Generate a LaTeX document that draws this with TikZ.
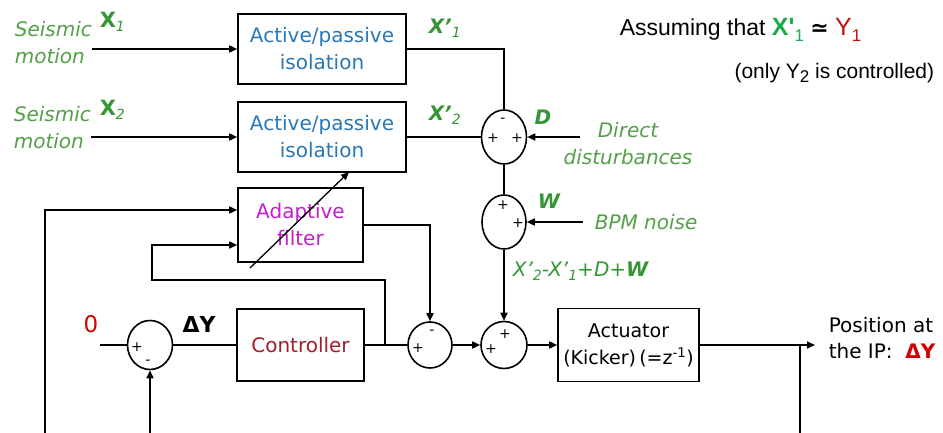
\documentclass[tikz,border=0pt]{standalone}
\usepackage{fontspec}
\setmainfont{DejaVu Sans}
\newfontfamily\arialf{Liberation Sans}
\usetikzlibrary{shapes.geometric,arrows.meta}
\definecolor{lgreen}{RGB}{84,160,72}
\definecolor{bgreen}{RGB}{52,150,52}
\definecolor{agreen}{RGB}{30,170,70}
\definecolor{isoblue}{RGB}{40,120,185}
\definecolor{adpmag}{RGB}{195,30,200}
\definecolor{ctrlred}{RGB}{160,30,45}
\definecolor{brred}{RGB}{210,0,0}
\definecolor{dkred}{RGB}{190,20,20}
\newcommand\sbx[1]{\raisebox{-0.35ex}{\fontsize{14}{14}\selectfont\mdseries #1}}
\newcommand\sbl[1]{\raisebox{-0.4ex}{\fontsize{17}{17}\selectfont\mdseries #1}}
\newcommand\fsz{\fontsize{20}{27}\selectfont}
\begin{document}
\begin{tikzpicture}[x=1pt,y=-1pt,line width=1.6pt,
  blk/.style={draw,line width=1.6pt,inner sep=0pt,align=center,font=\fsz},
  sumj/.style={draw,ellipse,line width=1.6pt,inner sep=0pt},
  arr/.style={-{Triangle[length=8pt,width=7pt]}},
  sgn/.style={inner sep=0pt,font=\fontsize{14}{14}\selectfont},
  lbl/.style={inner sep=0pt,text=lgreen,font=\fsz\itshape},
  xlbl/.style={inner sep=0pt,text=bgreen,font=\fsz\bfseries\itshape}]
\useasboundingbox (0,0) rectangle (943,433);
\fill[white] (0,0) rectangle (943,433);

% blocks
\node[blk,minimum width=168pt,minimum height=70pt,text=isoblue] (iso1) at (322,49) {Active/passive\\isolation};
\node[blk,minimum width=168pt,minimum height=70pt,text=isoblue] (iso2) at (322,137) {Active/passive\\isolation};
\node[blk,minimum width=125pt,minimum height=74pt,text=adpmag] (adf) at (300.5,225) {Adaptive\\filter};
\node[blk,minimum width=127pt,minimum height=72pt,text=ctrlred] (ctrl) at (300.5,345) {Controller};
\node[blk,minimum width=141pt,minimum height=73pt,font=\fontsize{19}{27}\selectfont] (act) at (628.5,345) {Actuator\\(Kicker)\,(=z\textsuperscript{-1})};

% summing junctions
\node[sumj,minimum width=45pt,minimum height=54pt] (s1) at (504,137) {};
\node[sumj,minimum width=44pt,minimum height=54pt] (s2) at (504,222) {};
\node[sumj,minimum width=44pt,minimum height=46pt] (s3) at (430,345) {};
\node[sumj,minimum width=46pt,minimum height=47pt] (s4) at (504,345) {};
\node[sumj,minimum width=45pt,minimum height=49pt] (s0) at (150,345) {};

% signs
\node[sgn] (g1) at (503,120) {-};
\node[sgn] (g2) at (493,138) {+};
\node[sgn] (g3) at (517,138) {+};
\node[sgn] (g4) at (503,205) {+};
\node[sgn] (g5) at (518,223) {+};
\node[sgn] (g6) at (432,332) {-};
\node[sgn] (g7) at (418,348) {+};
\node[sgn] (g8) at (505,334) {+};
\node[sgn] (g9) at (491,349) {+};
\node[sgn] (g10) at (137,347) {+};
\node[sgn] (g11) at (148,362) {-};

% labels
\node[lbl,anchor=west,align=left] (sm1) at (14,43) {Seismic\\motion};
\node[lbl,anchor=west,align=left] (sm2) at (13,128) {Seismic\\motion};
\node[inner sep=0pt,text=bgreen,font=\fontsize{21}{27}\selectfont\bfseries,anchor=west] (x1) at (99,22) {X{\itshape\sbx{1}}};
\node[inner sep=0pt,text=bgreen,font=\fontsize{21}{27}\selectfont\bfseries,anchor=west] (x2) at (99,110) {X{\itshape\sbx{2}}};
\node[xlbl,anchor=west] (xp1) at (428,28) {X'\sbx{1}};
\node[xlbl,anchor=west] (xp2) at (428,115) {X'\sbx{2}};
\node[xlbl] (dl) at (543,117) {D};
\node[xlbl] (wl) at (549,201) {W};
\node[lbl,align=center] (dd) at (628,144) {Direct\\disturbances};
\node[lbl,anchor=west] (bpm) at (594,222) {BPM noise};
\node[lbl,text=bgreen,anchor=west] (sum) at (512,271) {X'\sbx{2}-X'\sbx{1}+D+{\bfseries W}};
\node[inner sep=0pt,anchor=west,font=\arialf\fontsize{23}{25}\selectfont] (ass) at (619,30)
  {Assuming that {\fontsize{25}{25}\selectfont\bfseries\color{agreen}X'\sbl{1}} {\fontspec{DejaVu Sans}\fontsize{22}{25}\selectfont\bfseries ≃} {\fontsize{25}{25}\selectfont\color{dkred}Y\sbl{1}}};
\node[inner sep=0pt,anchor=east,font=\arialf\fontsize{21}{25}\selectfont] (only) at (935,73) {(only Y\sbl{2} is controlled)};
\node[inner sep=0pt,text=brred,font=\fontsize{23}{26}\selectfont] (zero) at (91,324) {0};
\node[inner sep=0pt,font=\fontsize{22}{26}\selectfont\bfseries] (dy) at (199,324) {ΔY};
\node[inner sep=0pt,anchor=west,align=left,font=\fontsize{20}{26}\selectfont] (pos) at (828,338) {Position at\\the IP:\ \ {\bfseries\color{brred}ΔY}};

% coordinates
\coordinate (in1) at (92,49);
\coordinate (in2) at (91,137);
\coordinate (ddin) at (580,137);
\coordinate (bpmin) at (583,222);
\coordinate (zin) at (100,345);
\coordinate (out) at (815,345);
\coordinate (tap) at (800,345);
\coordinate (tapb) at (800,433);
\coordinate (lb) at (45,433);
\coordinate (ltop) at (45,210);
\coordinate (fb0) at (150,433);
\coordinate (br) at (385,345);
\coordinate (dg1) at (250,268);
\coordinate (dg2) at (349,172);

% connectors
\draw[arr] (in1) -- (iso1.west |- in1);
\draw[arr] (in2) -- (iso2.west |- in2);
\draw (iso1.east) -| (s1.north);
\draw (iso2.east) -- (s1.west);
\draw[arr] (ddin) -- (s1.east);
\draw (s1.south) -- (s2.north);
\draw[arr] (bpmin) -- (s2.east);
\draw[arr] (s2.south) -- (s4.north);
\draw[arr] (s3.east) -- (s4.west);
\draw[arr] (s4.east) -- (act.west);
\draw[arr] (act.east) -- (out);
\draw (tap) -- (tapb);
\draw (ctrl.east) -- (s3.west);
\draw[arr] (br) -- (385,280) -- (152,280) -- (152,245) -- (adf.west |- 0,245);
\draw[arr] (adf.east) -| (s3.north);
\draw[arr] (lb) -- (ltop) -- (adf.west |- ltop);
\draw (zin) -- (s0.west);
\draw (s0.east) -- (ctrl.west);
\draw[arr] (fb0) -- (s0.south);
\draw[arr,line width=1.3pt] (dg1) -- (dg2);
\end{tikzpicture}
\end{document}
